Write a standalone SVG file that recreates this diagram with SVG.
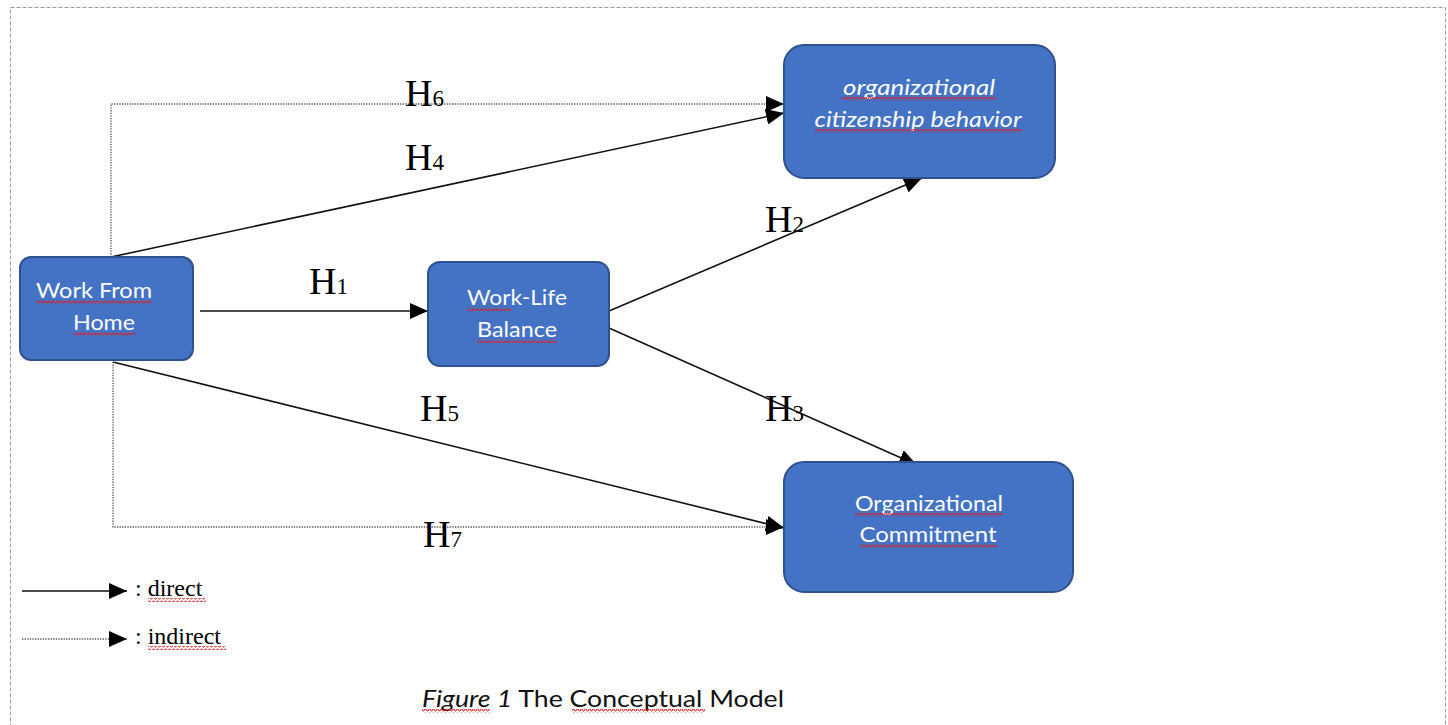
<svg xmlns="http://www.w3.org/2000/svg" width="1448" height="725" viewBox="0 0 1448 725">
<style>
.node{fill:#4472C4;stroke:#2F528F;stroke-width:2}
.nt{font-family:Lato,"Open Sans",sans-serif;font-size:22px;fill:#ffffff;text-anchor:middle}
.h{font-family:"Liberation Serif",serif;font-size:38px;fill:#000}
.sub{font-size:23px}
.solid{stroke:#111;stroke-width:1.6;fill:none}
.dot{stroke:#555;stroke-width:1.3;stroke-dasharray:1.3 1.3;fill:none}
.leg{font-family:"Liberation Serif",serif;font-size:24px;fill:#000}
.wavy{fill:url(#zig)}
</style>
<defs>
<marker id="arr" markerUnits="userSpaceOnUse" markerWidth="20" markerHeight="16" refX="18" refY="8" orient="auto">
<path d="M0,0 L18,8 L0,16 Z" fill="#000"/>
</marker>
<pattern id="zig" patternUnits="userSpaceOnUse" width="4" height="4">
<polyline points="0,3 1,1 2,1 3,3 4,3" fill="none" stroke="#e02020" stroke-width="1"/>
</pattern>
</defs>
<rect x="10.5" y="7.5" width="1435" height="740" fill="none" stroke="#999" stroke-width="1" stroke-dasharray="4 2"/>

<g id="connectors">
<polyline class="dot" points="111,257 111,104 784,104" marker-end="url(#arr)"/>
<line class="solid" x1="111" y1="257" x2="784" y2="113" marker-end="url(#arr)"/>
<line class="solid" x1="200" y1="311" x2="428" y2="311" marker-end="url(#arr)"/>
<line class="solid" x1="609" y1="311" x2="922" y2="178" marker-end="url(#arr)"/>
<line class="solid" x1="609" y1="328" x2="917" y2="465" marker-end="url(#arr)"/>
<line class="solid" x1="113" y1="362" x2="784" y2="528" marker-end="url(#arr)"/>
<polyline class="dot" points="113,362 113,527 784,527" marker-end="url(#arr)"/>
<text class="h" x="405" y="106">H<tspan class="sub">6</tspan></text>
<text class="h" x="405" y="170">H<tspan class="sub">4</tspan></text>
<text class="h" x="309" y="294">H<tspan class="sub">1</tspan></text>
<text class="h" x="765" y="232">H<tspan class="sub">2</tspan></text>
<text class="h" x="765" y="421">H<tspan class="sub">3</tspan></text>
<text class="h" x="420" y="421">H<tspan class="sub">5</tspan></text>
<text class="h" x="423" y="547">H<tspan class="sub">7</tspan></text>
</g>

<g id="wfh">
<rect class="node" x="20" y="257" width="173" height="103" rx="11"/>
<text class="nt" x="94" y="298" textLength="116" lengthAdjust="spacingAndGlyphs">Work From</text>
<text class="nt" x="104" y="330" textLength="62" lengthAdjust="spacingAndGlyphs">Home</text>
<rect class="wavy" x="36" y="300" width="116" height="4"/>
<rect class="wavy" x="73" y="332" width="62" height="4"/>
</g>

<g id="wlb">
<rect class="node" x="428" y="262" width="181" height="104" rx="12"/>
<text class="nt" x="517" y="305" textLength="100" lengthAdjust="spacingAndGlyphs">Work-Life</text>
<text class="nt" x="517" y="337" textLength="80" lengthAdjust="spacingAndGlyphs">Balance</text>
<rect class="wavy" x="467" y="307" width="44" height="4"/>
<rect class="wavy" x="477" y="339" width="80" height="4"/>
</g>

<g id="ocb">
<rect class="node" x="784" y="45" width="271" height="133" rx="20"/>
<text class="nt" x="919" y="95" font-style="italic" textLength="152" lengthAdjust="spacingAndGlyphs">organizational</text>
<text class="nt" x="918" y="127" font-style="italic" textLength="207" lengthAdjust="spacingAndGlyphs">citizenship behavior</text>
<rect class="wavy" x="842" y="97" width="154" height="4"/>
<rect class="wavy" x="815" y="129" width="207" height="4"/>
</g>

<g id="oc">
<rect class="node" x="784" y="462" width="289" height="130" rx="20"/>
<text class="nt" x="929" y="511" textLength="148" lengthAdjust="spacingAndGlyphs">Organizational</text>
<text class="nt" x="928" y="542" textLength="137" lengthAdjust="spacingAndGlyphs">Commitment</text>
<rect class="wavy" x="855" y="513" width="148" height="4"/>
<rect class="wavy" x="860" y="544" width="137" height="4"/>
</g>

<g id="legend">
<line class="solid" x1="22" y1="591" x2="127" y2="591" marker-end="url(#arr)"/>
<text class="leg" x="135" y="596">: direct</text>
<rect class="wavy" x="148" y="598" width="58" height="4"/>
<line class="dot" x1="22" y1="639" x2="127" y2="639" marker-end="url(#arr)"/>
<text class="leg" x="135" y="644">: indirect</text>
<rect class="wavy" x="148" y="646" width="78" height="4"/>
</g>

<g id="caption">
<text font-family="Lato,'Open Sans',sans-serif" font-size="24" fill="#111" x="422" y="707" textLength="362" lengthAdjust="spacingAndGlyphs"><tspan font-style="italic">Figure 1</tspan> The Conceptual Model</text>
<rect class="wavy" x="422" y="709" width="68" height="4"/>
<rect class="wavy" x="572" y="709" width="133" height="4"/>
</g>
</svg>
